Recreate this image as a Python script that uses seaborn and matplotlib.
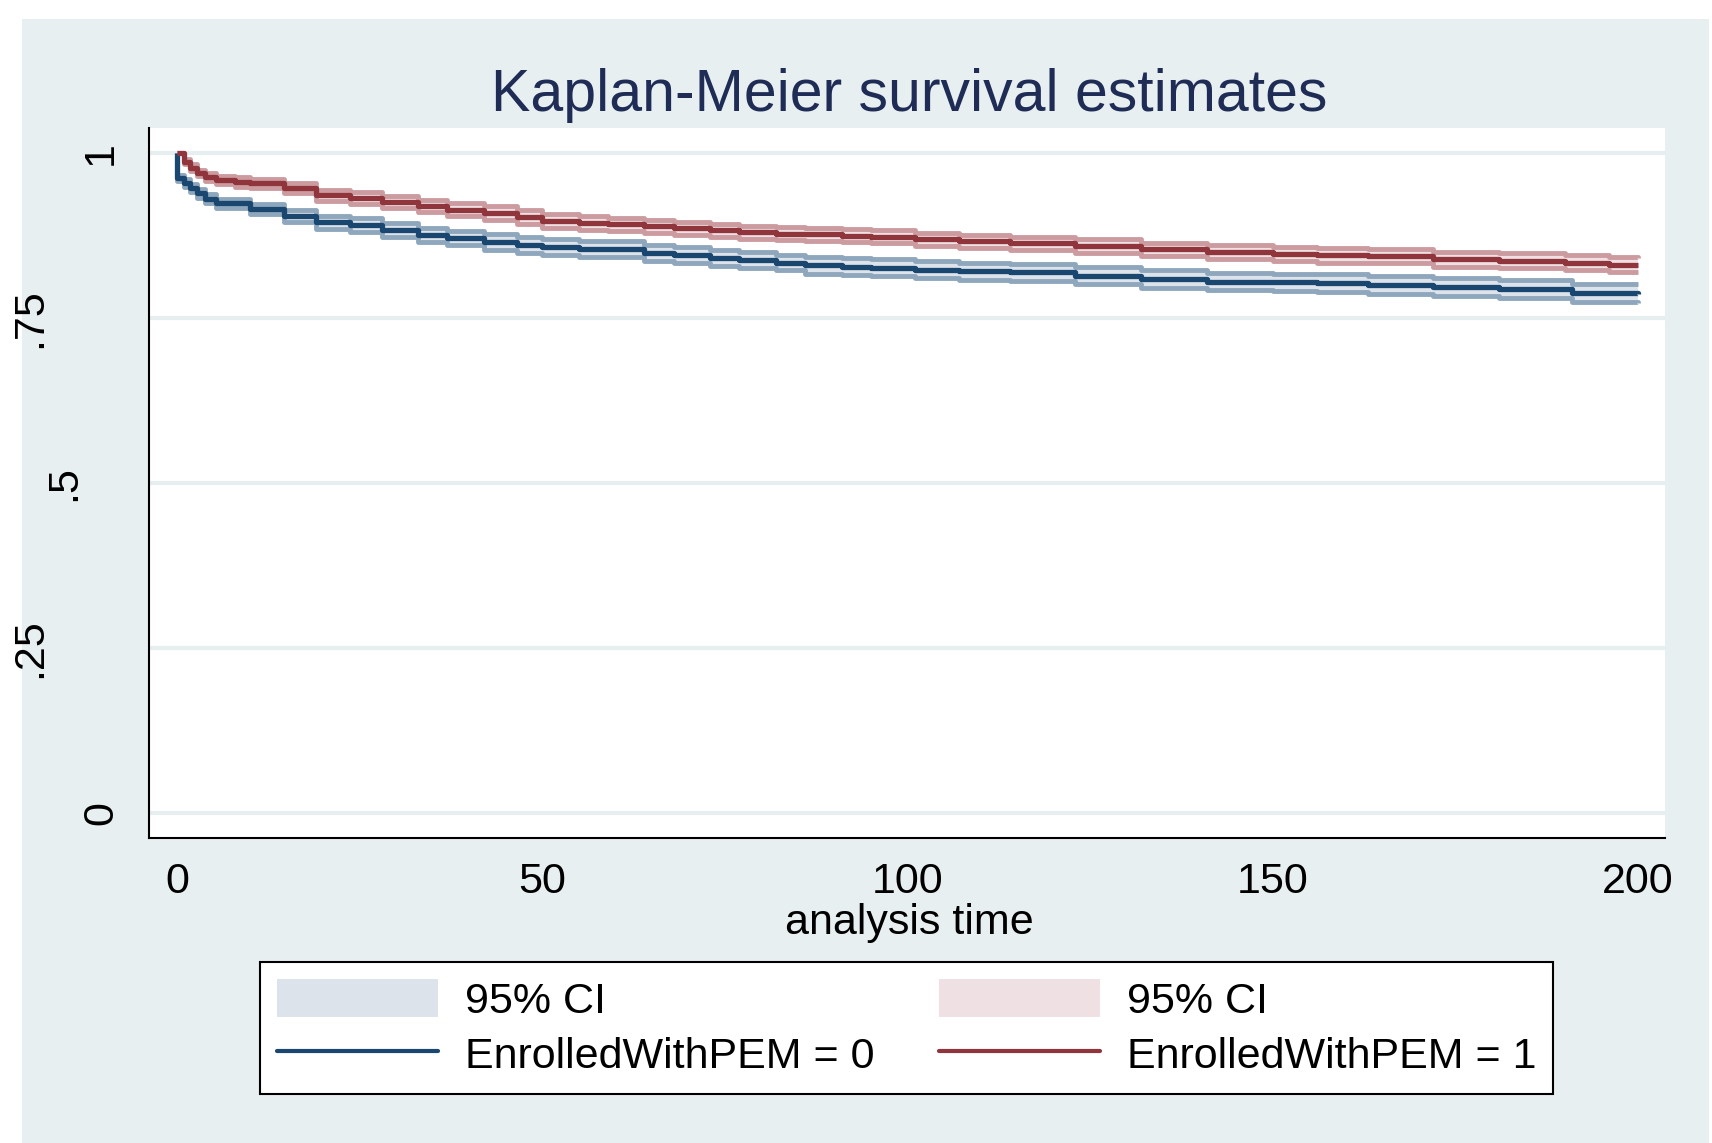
import numpy as np
import pandas as pd
import seaborn as sns
import matplotlib.pyplot as plt
from matplotlib.patches import Rectangle, Patch
from matplotlib.lines import Line2D
from matplotlib.transforms import blended_transform_factory

# Kaplan-Meier estimates
time_0 = [0, 0, 0.9, 1.8, 2.7, 3.8, 5.4, 10, 14.6, 19, 23.7, 28, 33, 37, 42, 46.5, 50,
          55, 59, 64, 68, 73, 77, 82, 86, 91, 95, 101, 107, 114, 123, 132, 141, 150,
          156, 163, 172, 181, 191, 200]
surv_0 = [1.0, 0.962, 0.955, 0.947, 0.939, 0.931, 0.924, 0.915, 0.905, 0.895, 0.891,
          0.883, 0.876, 0.871, 0.865, 0.861, 0.858, 0.855, 0.854, 0.849, 0.845, 0.841,
          0.838, 0.834, 0.830, 0.828, 0.826, 0.823, 0.821, 0.819, 0.814, 0.809, 0.805,
          0.804, 0.803, 0.800, 0.797, 0.794, 0.788, 0.787]
ci_half_0 = [0.0, 0.005, 0.006, 0.006, 0.007, 0.007, 0.007, 0.008, 0.009, 0.010, 0.010,
             0.011, 0.011, 0.011, 0.012, 0.012, 0.012, 0.012, 0.012, 0.012, 0.012, 0.012,
             0.012, 0.012, 0.013, 0.013, 0.013, 0.013, 0.013, 0.013, 0.013, 0.013, 0.013,
             0.013, 0.013, 0.014, 0.014, 0.014, 0.014, 0.014]

time_1 = [0, 0.9, 1.8, 2.7, 3.8, 5.4, 8, 10, 14.6, 19, 23.7, 28, 33, 37, 42, 46.5, 50,
          55, 59, 64, 68, 73, 77, 82, 86, 91, 95, 101, 107, 114, 123, 132, 141, 150,
          156, 163, 172, 181, 190, 196, 200]
surv_1 = [1.0, 0.987, 0.978, 0.970, 0.964, 0.959, 0.956, 0.954, 0.947, 0.936, 0.932,
          0.926, 0.920, 0.914, 0.909, 0.903, 0.897, 0.894, 0.892, 0.889, 0.886, 0.883,
          0.880, 0.878, 0.877, 0.875, 0.873, 0.869, 0.866, 0.863, 0.859, 0.854, 0.850,
          0.847, 0.845, 0.844, 0.839, 0.837, 0.834, 0.831, 0.830]
ci_half_1 = [0.0, 0.004, 0.005, 0.005, 0.006, 0.006, 0.007, 0.007, 0.008, 0.008, 0.009,
             0.009, 0.009, 0.010, 0.010, 0.010, 0.010, 0.010, 0.010, 0.010, 0.010, 0.010,
             0.010, 0.010, 0.010, 0.010, 0.010, 0.010, 0.010, 0.010, 0.010, 0.010, 0.011,
             0.011, 0.011, 0.011, 0.011, 0.011, 0.011, 0.011, 0.011]

group_labels = ['EnrolledWithPEM = 0', 'EnrolledWithPEM = 1']
ci_label = '95% CI'
y_ticks = [0, 0.25, 0.5, 0.75, 1]
y_tick_labels = ['0', '.25', '.5', '.75', '1']
x_ticks = [0, 50, 100, 150, 200]

df0 = pd.DataFrame({'t': time_0, 's': surv_0, 'h': ci_half_0})
df1 = pd.DataFrame({'t': time_1, 's': surv_1, 'h': ci_half_1})
for d in (df0, df1):
    d['lo'] = d['s'] - d['h']
    d['hi'] = d['s'] + d['h']

sns.set_style('white')
plt.rcParams['font.family'] = ['Liberation Sans', 'DejaVu Sans']
plt.rcParams['text.color'] = 'black'

W, H = 1712, 1143
fig = plt.figure(figsize=(W / 100, H / 100), dpi=100)
fig.patch.set_facecolor('white')
bg = '#e8eff1'
fig.patches.append(Rectangle((22 / W, 0), (1709 - 22) / W, (H - 19) / H,
                             transform=fig.transFigure, facecolor=bg,
                             edgecolor='none', zorder=-10))

ax = fig.add_axes([149 / W, 1 - 838 / H, (1665 - 149) / W, (838 - 128) / H])
ax.set_facecolor('white')

styles = [
    dict(df=df0, line='#1a476f', fill='#dde3ea', edge='#8fa7bd'),
    dict(df=df1, line='#90353b', fill='#efe1e3', edge='#cb9ba0'),
]

# confidence bands
for st in styles:
    d = st['df']
    ax.fill_between(d['t'], d['lo'], d['hi'], step='post', color=st['fill'],
                    linewidth=0, zorder=2)
for st in styles:
    d = st['df']
    for col in ('lo', 'hi'):
        sns.lineplot(x=d['t'], y=d[col], ax=ax, estimator=None, sort=False,
                     drawstyle='steps-post', color=st['edge'], linewidth=3.5,
                     solid_capstyle='butt', zorder=3)
# survival curves
for st in styles:
    d = st['df']
    sns.lineplot(x=d['t'], y=d['s'], ax=ax, estimator=None, sort=False,
                 drawstyle='steps-post', color=st['line'], linewidth=3.8,
                 solid_capstyle='butt', zorder=4)

ax.set_xlim(-3.83, 203.7)
ax.set_ylim(-0.0379, 1.0379)
ax.set_xticks(x_ticks)
ax.set_xticklabels([str(v) for v in x_ticks])
ax.set_yticks(y_ticks)
ax.tick_params(axis='both', direction='out', length=12, width=1.4, color='black',
               labelcolor='black')
ax.tick_params(axis='x', labelsize=31, pad=5)
ax.tick_params(axis='y', labelleft=False)
ax.grid(axis='y', color='#e6eef0', linewidth=3)
ax.grid(axis='x', visible=False)
ax.set_axisbelow(True)
for side in ('top', 'right'):
    ax.spines[side].set_visible(False)
for side in ('left', 'bottom'):
    ax.spines[side].set_color('black')
    ax.spines[side].set_linewidth(1.5)
ax.set_xlabel('')
ax.set_ylabel('')

# rotated y tick labels, staggered like the original
label_x_px = {'0': 101, '.25': 30, '.5': 64, '.75': 30, '1': 101}
trans = blended_transform_factory(fig.transFigure, ax.transData)
for v, lab in zip(y_ticks, y_tick_labels):
    fig.text(label_x_px[lab] / W, v, lab, transform=trans, rotation=90,
             ha='center', va='center', fontsize=31, color='black')

fig.text(909 / W, 1 - 934 / H, 'analysis time', ha='center', va='baseline',
         fontsize=31, color='black')
fig.text(909 / W, 1 - 111 / H, 'Kaplan-Meier survival estimates', ha='center',
         va='baseline', fontsize=42.5, color='#1e2c56')

handles = [Patch(facecolor=styles[0]['fill'], edgecolor='none'),
           Line2D([], [], color=styles[0]['line'], linewidth=3),
           Patch(facecolor=styles[1]['fill'], edgecolor='none'),
           Line2D([], [], color=styles[1]['line'], linewidth=3)]
labels = [ci_label, group_labels[0], ci_label, group_labels[1]]
leg = fig.legend(handles, labels, ncol=2, loc='center',
                 bbox_to_anchor=(906.5 / W, 1 - 1028 / H),
                 bbox_transform=fig.transFigure, fontsize=31, frameon=True,
                 fancybox=False, framealpha=1, edgecolor='black',
                 handlelength=3.74, handleheight=1.0, handletextpad=0.63,
                 columnspacing=1.5, labelspacing=0.29, borderpad=0.39,
                 labelcolor='black')
leg.get_frame().set_linewidth(1.5)

fig.savefig('out.png', dpi=100)
